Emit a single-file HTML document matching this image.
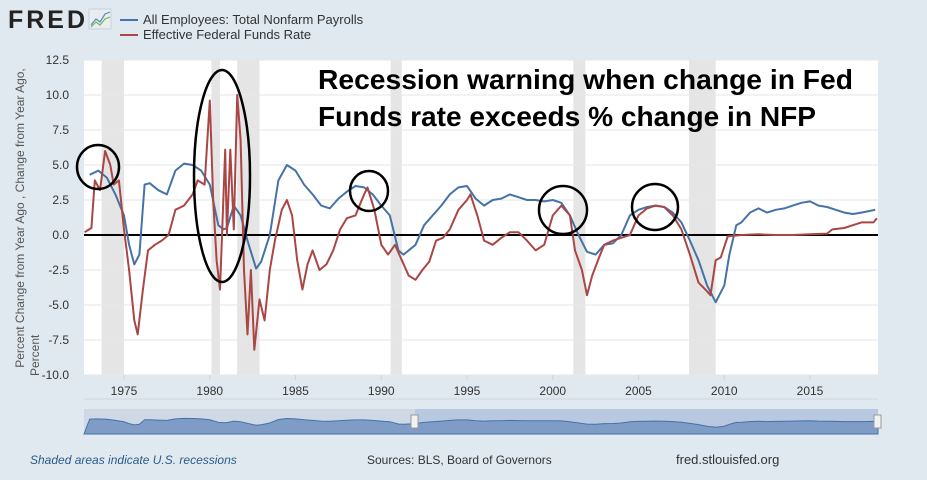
<!DOCTYPE html>
<html><head><meta charset="utf-8"><style>
body{margin:0;background:#e1e9f0;font-family:"Liberation Sans",sans-serif;}
svg{display:block}
</style></head><body>
<svg id="c" width="927" height="480">
<rect x="0" y="0" width="927" height="480" fill="#e1e9f0"/>
<g>
<text x="8" y="28" font-size="25" font-weight="bold" fill="#222" font-family="Liberation Sans, sans-serif" textLength="77">FRED</text>
<rect x="89" y="9" width="22" height="20" fill="#e9edf0" stroke="#c8d0d8"/>
<polyline points="91,25 96,19 100,22 105,14 110,12" fill="none" stroke="#4a8fc4" stroke-width="1.2"/>
<polyline points="91,27 96,22 100,25 105,19 110,17" fill="none" stroke="#7ab35a" stroke-width="1.2"/>
</g>
<g>
<line x1="120" y1="20" x2="138" y2="20" stroke="#4572a7" stroke-width="2"/>
<text x="143" y="24" font-size="13" fill="#333">All Employees: Total Nonfarm Payrolls</text>
<line x1="120" y1="35" x2="138" y2="35" stroke="#aa4643" stroke-width="2"/>
<text x="143" y="39" font-size="13" fill="#333">Effective Federal Funds Rate</text>
</g>
<rect x="84" y="60" width="794" height="315" fill="#fff"/>
<g id="bands"></g><g id="grid"></g><g id="yt"></g><g id="xt"></g>
<line x1="84" y1="235" x2="878" y2="235" stroke="#000" stroke-width="2"/>
<g id="series"></g>
<g fill="none" stroke="#000" stroke-width="2.5">
<ellipse cx="98" cy="167" rx="21" ry="22"/>
<ellipse cx="222" cy="176" rx="28" ry="106"/>
<ellipse cx="369" cy="191" rx="19" ry="20"/>
<ellipse cx="563" cy="210" rx="24" ry="24"/>
<ellipse cx="655" cy="207" rx="23" ry="23"/>
</g>
<g font-size="28" font-weight="bold" fill="#000">
<text x="318" y="89" textLength="535" lengthAdjust="spacingAndGlyphs">Recession warning when change in Fed</text>
<text x="318" y="126" textLength="498" lengthAdjust="spacingAndGlyphs">Funds rate exceeds % change in NFP</text>
</g>
<text transform="translate(24,218) rotate(-90)" text-anchor="middle" font-size="12" fill="#555">Percent Change from Year Ago , Change from Year Ago,</text>
<text transform="translate(39,376) rotate(-90)" text-anchor="start" font-size="12" fill="#555">Percent</text>
<g>
<rect x="84" y="409" width="794" height="25" fill="#cfd9e6"/>
<rect x="415" y="409" width="463" height="25" fill="#b7c8e0"/>
<path id="navpath" fill="#7f9cc6" stroke="#4572a7" stroke-width="1"/>
<rect x="411" y="415" width="7" height="13" fill="#f2f2f2" stroke="#999"/>
<rect x="874" y="415" width="7" height="13" fill="#f2f2f2" stroke="#999"/>
</g>
<line x1="84" y1="399" x2="878" y2="399" stroke="#cdd6e0"/>
<text x="30" y="464" font-size="12" font-style="italic" fill="#2b5b8a">Shaded areas indicate U.S. recessions</text>
<text x="367" y="464" font-size="12" fill="#333">Sources: BLS, Board of Governors</text>
<text x="676" y="464" font-size="13" fill="#333">fred.stlouisfed.org</text>
</svg>
<script>
const yTicks=[12.5,10.0,7.5,5.0,2.5,0.0,-2.5,-5.0,-7.5,-10.0];
const xTicks=[1975,1980,1985,1990,1995,2000,2005,2010,2015];
const recessions=[[1973.7,1975.0],[1980.1,1980.6],[1981.6,1982.9],[1990.55,1991.2],[2001.2,2001.9],[2007.95,2009.5]];
const nfpYears=[1973.0,1973.5,1974.0,1974.5,1975.0,1975.3,1975.6,1975.9,1976.2,1976.5,1977,1977.5,1978,1978.5,1979,1979.5,1980,1980.5,1980.8,1981,1981.4,1981.8,1982.2,1982.7,1983,1983.5,1984,1984.5,1985,1985.5,1986,1986.5,1987,1987.5,1988,1988.5,1989,1989.5,1990,1990.5,1991,1991.3,1992,1992.5,1993,1993.5,1994,1994.5,1995,1995.5,1996,1996.5,1997,1997.5,1998,1998.5,1999,1999.5,2000,2000.5,2001,2001.5,2002,2002.5,2003,2003.5,2004,2004.5,2005,2005.5,2006,2006.5,2007,2007.5,2008,2008.5,2009,2009.5,2010,2010.3,2010.7,2011,2011.5,2012,2012.5,2013,2013.5,2014,2014.5,2015,2015.5,2016,2016.5,2017,2017.5,2018,2018.8];
const nfpValues=[4.3,4.6,4.1,2.9,1.4,-0.7,-2.1,-1.4,3.6,3.7,3.2,2.9,4.6,5.1,5.0,4.6,3.6,0.7,0.4,0.5,2.1,1.4,-0.4,-2.4,-1.9,0,3.9,5.0,4.6,3.6,2.9,2.1,1.9,2.6,3.1,3.5,3.4,2.9,2.1,1.4,-1.1,-1.4,-0.7,0.7,1.4,2.1,2.9,3.4,3.5,2.6,2.1,2.5,2.6,2.9,2.7,2.5,2.5,2.4,2.5,2.3,1.4,0,-1.2,-1.4,-0.7,-0.6,0,1.4,1.8,2.0,2.1,2.0,1.6,0.9,-0.4,-1.8,-3.6,-4.8,-3.6,-1.4,0.7,0.9,1.6,1.9,1.6,1.8,1.9,2.1,2.3,2.4,2.1,2.0,1.8,1.6,1.5,1.6,1.8];
const ffYears=[1972.7,1973.1,1973.3,1973.6,1973.9,1974.2,1974.4,1974.7,1975.0,1975.3,1975.6,1975.8,1976.1,1976.4,1976.8,1977.2,1977.6,1978,1978.5,1979,1979.3,1979.7,1980.0,1980.2,1980.4,1980.6,1980.9,1981.0,1981.2,1981.4,1981.6,1981.8,1982.0,1982.2,1982.4,1982.6,1982.9,1983.2,1983.5,1983.8,1984.2,1984.5,1984.8,1985.1,1985.4,1985.7,1986.0,1986.4,1986.8,1987.2,1987.6,1988,1988.5,1989,1989.2,1989.6,1990,1990.4,1990.8,1991.2,1991.6,1992,1992.4,1992.8,1993.2,1993.6,1994,1994.5,1995,1995.2,1995.6,1996,1996.5,1997,1997.5,1998,1998.5,1999,1999.5,2000,2000.5,2001,2001.3,2001.7,2002,2002.3,2002.7,2003,2003.5,2004,2004.5,2005,2005.5,2006,2006.5,2007,2007.5,2008,2008.5,2008.9,2009.2,2009.5,2009.8,2010.2,2011,2012,2013,2014,2015,2016,2016.3,2017,2017.5,2018,2018.7,2018.9];
const ffValues=[0.2,0.5,3.9,3.2,6.0,5.0,3.6,3.9,0.4,-2.5,-6.1,-7.1,-3.9,-1.1,-0.7,-0.4,0,1.8,2.1,2.9,3.9,3.6,9.6,2.5,-1.8,-3.9,6.1,0,6.1,0.4,10.0,6.8,-2.5,-7.1,-2.5,-8.2,-4.6,-6.1,-2.5,-0.4,1.8,2.5,1.4,-1.8,-3.9,-2.1,-1.1,-2.5,-2.1,-1.1,0.4,1.2,1.4,2.9,3.4,1.8,-0.7,-1.4,-0.7,-1.8,-2.9,-3.2,-2.5,-1.9,-0.4,-0.2,0.4,1.8,2.5,2.9,1.4,-0.4,-0.7,-0.2,0.2,0.2,-0.4,-1.1,-0.7,1.4,2.1,1.4,-1.1,-2.5,-4.3,-2.9,-1.6,-0.7,-0.4,-0.2,0,1.4,1.9,2.1,2.0,1.4,0.4,-1.4,-3.4,-3.9,-4.3,-1.8,-1.6,-0.1,0,0.05,0,0,0.05,0.1,0.4,0.5,0.7,0.9,0.9,1.2];
const X=y=>124+(y-1975)*17.15;
const Y=v=>235-v*14;
const NS="http://www.w3.org/2000/svg";
function mk(t,a,p){const e=document.createElementNS(NS,t);for(const k in a)e.setAttribute(k,a[k]);p.appendChild(e);return e;}
const g=id=>document.getElementById(id);
recessions.forEach(r=>{const e=mk('rect',{x:X(r[0]),y:60,width:X(r[1])-X(r[0]),height:315,fill:'#e5e5e5'},g('bands'));

});
yTicks.forEach(v=>{if(v!==0){const l=mk('line',{x1:84,x2:878,y1:Y(v),y2:Y(v),stroke:'#e6e6e6'},g('grid'));

}
const t=mk('text',{x:69,y:Y(v)+4,'text-anchor':'end','font-size':12,fill:'#333'},g('yt'));t.textContent=v.toFixed(1);

});
xTicks.forEach(y=>{mk('line',{x1:X(y),x2:X(y),y1:375,y2:380,stroke:'#ccd6e0'},g('xt'));
const t=mk('text',{x:X(y),y:395,'text-anchor':'middle','font-size':12,fill:'#333'},g('xt'));t.textContent=y;

});
function line(xs,vs,col,name){const d=xs.map((x,i)=>(i?'L':'M')+X(x).toFixed(1)+','+Y(vs[i]).toFixed(1)).join('');
const p=mk('path',{d:d,fill:'none',stroke:col,'stroke-width':2,'stroke-linejoin':'round'},g('series'));

}
line(nfpYears,nfpValues,'#4572a7','nfp-line');
line(ffYears,ffValues,'#aa4643','fed-funds-line');
let d='M84,434';nfpYears.forEach((x,i)=>{d+='L'+X(x).toFixed(1)+','+(423-nfpValues[i]*0.9).toFixed(1);});d+='L878,422L878,434Z';
g('navpath').setAttribute('d',d);
</script>
</body></html>
